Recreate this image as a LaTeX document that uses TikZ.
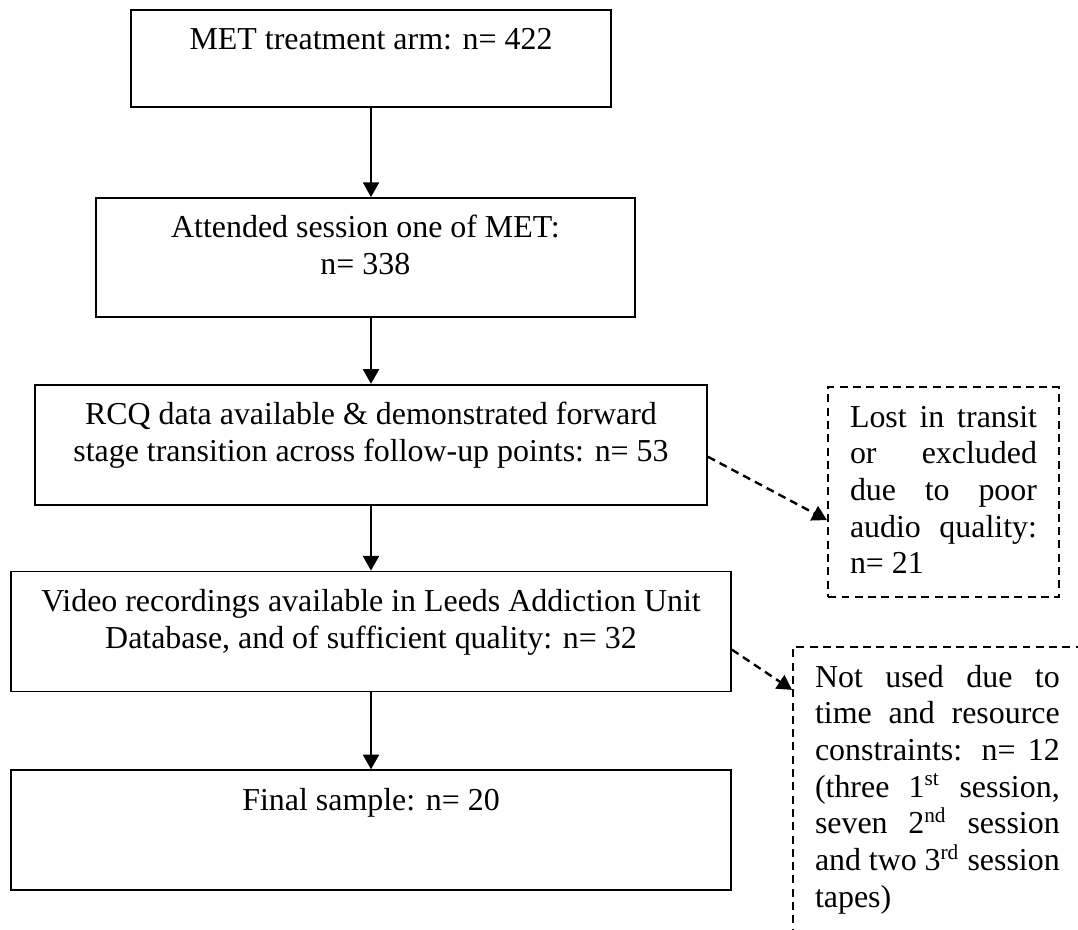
\documentclass[tikz,border=0pt]{standalone}
\usepackage{fontspec}
\setmainfont{Liberation Serif}
\usetikzlibrary{arrows.meta, positioning, calc}
\newcommand{\stagetext}[3]{\parbox[c][#2][t]{#1}{\centering\rule{0pt}{15pt}#3}}
\newcommand{\losstext}[3]{\parbox[c][#2][t]{#1}{\hyphenpenalty=10000\exhyphenpenalty=10000\rule{0pt}{15pt}#3}}
\tikzset{
  stagebox/.style  = {rectangle, draw=black, line width=0.7pt, inner sep=0pt,
                      font=\fontsize{12}{13.8}\selectfont},
  lossbox/.style   = {rectangle, draw=black, line width=0.9pt, dash pattern=on 3pt off 2pt,
                      inner xsep=8.2pt, inner ysep=0pt, font=\fontsize{12}{13.8}\selectfont},
  flow/.style      = {-{Triangle[length=5.5pt,width=6pt]}, line width=0.75pt, draw=black},
  lossflow/.style  = {flow, line width=0.9pt, dash pattern=on 3pt off 2pt},
}
\begin{document}
\begin{tikzpicture}[x=0.3759pt, y=-0.3759pt]
\useasboundingbox (0,0) rectangle (1078,930);
\clip (0,0) rectangle (1078,930);

% ---------- Main column ----------
\node[stagebox] (met) at (371,58.5) {\stagetext{180.4pt}{36.5pt}{MET treatment arm: n= 422}};
\node[stagebox, below=33.5pt of met, xshift=-2.1pt] (attended) {\stagetext{202.6pt}{44.7pt}{Attended session one of MET:\\n= 338}};
\node[stagebox, below=24.8pt of attended, xshift=2.1pt] (rcq) {\stagetext{252.6pt}{45.1pt}{RCQ data available \& demonstrated forward\\stage transition across follow-up points: n= 53}};
\node[stagebox, below=24.4pt of rcq] (video) {\stagetext{270.6pt}{45.1pt}{Video recordings available in Leeds Addiction Unit\\Database, and of sufficient quality: n= 32}};
\node[stagebox, below=28.9pt of video] (final) {\stagetext{270.6pt}{45.1pt}{Final sample: n= 20}};

% ---------- Exclusions ----------
\node[lossbox, anchor=north west] (lost) at (827,386) {\losstext{70.3pt}{78.9pt}{Lost in transit\linebreak or excluded\linebreak due to poor\linebreak audio quality:\linebreak n= 21}};
\node[lossbox, anchor=north west] (unused) at (792,646) {\losstext{92pt}{112.4pt}{Not used due to\linebreak time and resource\linebreak constraints: n= 12\linebreak (three 1\textsuperscript{st} session,\linebreak seven 2\textsuperscript{nd} session\linebreak and two 3\textsuperscript{rd} session\linebreak tapes)}};

% ---------- Edges ----------
\draw[flow] (met.south) -- (met.south |- attended.north);
\draw[flow] (rcq.north |- attended.south) -- (rcq.north);
\draw[flow] (rcq.south) -- (video.north);
\draw[flow] (video.south) -- (final.north);
\draw[lossflow] ([yshift=-4.5pt]rcq.east) -- ([yshift=-10.5pt]lost.west);
\draw[lossflow] ([yshift=-6.8pt]video.east) -- ([yshift=-16.5pt]unused.north west);

\end{tikzpicture}
\end{document}
